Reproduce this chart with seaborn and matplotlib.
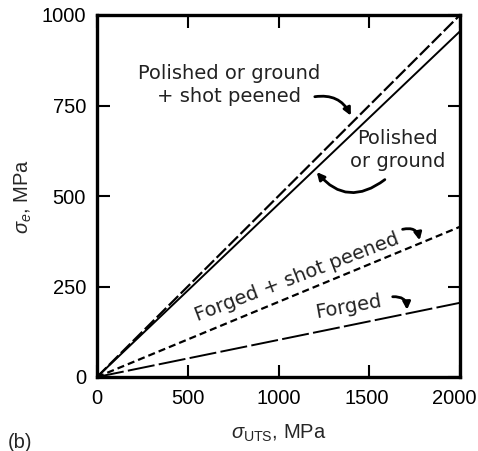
import numpy as np
import pandas as pd
import matplotlib
matplotlib.use("Agg")
import matplotlib.pyplot as plt
import matplotlib.transforms as mtransforms
import seaborn as sns

# data (MPa)
uts = [0, 2000]
polished_shot = [0, 1000]
polished = [0, 955]
forged_shot = [0, 415]
forged = [0, 205]

x_ticks = [0, 500, 1000, 1500, 2000]
y_ticks = [0, 250, 500, 750, 1000]

sns.set_style("ticks")
plt.rcParams["font.family"] = ["Liberation Sans", "DejaVu Sans"]
plt.rcParams["mathtext.fontset"] = "custom"
plt.rcParams["mathtext.rm"] = "Liberation Sans"
plt.rcParams["mathtext.it"] = "Liberation Sans:italic"

fig = plt.figure(figsize=(4.78, 4.51), dpi=100)
ax = fig.add_axes([97 / 478, 1 - 377 / 451, 363 / 478, 362 / 451])

sns.lineplot(x=uts, y=polished_shot, ax=ax, color="black", lw=1.6,
             linestyle=(0, (6, 1.6)))
sns.lineplot(x=uts, y=polished, ax=ax, color="black", lw=1.4)
sns.lineplot(x=uts, y=forged_shot, ax=ax, color="black", lw=1.6,
             linestyle=(0, (3.2, 1.8)))
sns.lineplot(x=uts, y=forged, ax=ax, color="black", lw=1.4,
             linestyle=(0, (14, 2.2)))

ax.set_xlim(0, 2000)
ax.set_ylim(0, 1000)
ax.set_xticks(x_ticks)
ax.set_yticks(y_ticks)
ax.tick_params(direction="in", length=9, width=1.5, top=True, right=True,
               labelsize=14.5, pad=8, colors="black")
ax.tick_params(axis="x", pad=9)
for s in ax.spines.values():
    s.set_linewidth(2.4)
    s.set_color("black")

# the last x label sits a bit inside the frame in the original
shift = mtransforms.ScaledTranslation(-6 / 100, 0, fig.dpi_scale_trans)
labs = ax.get_xticklabels()
labs[-1].set_transform(labs[-1].get_transform() + shift)
labs[-2].set_transform(labs[-2].get_transform()
                       + mtransforms.ScaledTranslation(-2 / 100, 0, fig.dpi_scale_trans))

ax.set_xlabel(r"$\sigma_{\mathrm{UTS}}$, MPa", fontsize=14.5, labelpad=10)
ax.set_ylabel(r"$\sigma_e$, MPa", fontsize=14.5, labelpad=5)

txt = dict(fontsize=14, family="DejaVu Sans", ha="center", va="center",
           color="#222222", linespacing=1.3)
ax.text(727, 807, "Polished or ground\n+ shot peened", **txt)
ax.text(1658, 627, "Polished\nor ground", **txt)
ax.text(1102, 276, "Forged + shot peened", rotation=21, **txt)
ax.text(1388, 193, "Forged", rotation=10, **txt)

arr = dict(arrowstyle="-|>", color="black", lw=2, mutation_scale=11)
ax.annotate("", xy=(1405, 715), xytext=(1185, 773),
            arrowprops=dict(connectionstyle="arc3,rad=-0.4", **arr))
ax.annotate("", xy=(1201, 572), xytext=(1598, 550),
            arrowprops=dict(connectionstyle="arc3,rad=-0.5", **arr))
ax.annotate("", xy=(1780, 370), xytext=(1669, 406),
            arrowprops=dict(connectionstyle="arc3,rad=-0.6", **arr))
ax.annotate("", xy=(1708, 178), xytext=(1614, 221),
            arrowprops=dict(connectionstyle="arc3,rad=-0.6", **arr))

fig.text(8 / 478, 1 - 442 / 451, "(b)", fontsize=14.5, va="center", ha="left")

fig.savefig("out.png", dpi=100)
